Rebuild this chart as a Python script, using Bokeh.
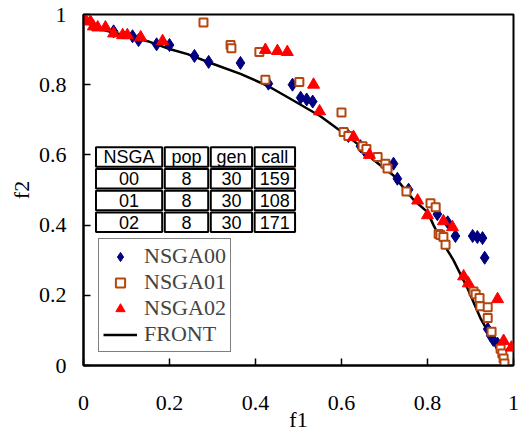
from bokeh.plotting import figure
from bokeh.models import Range1d, Legend, LegendItem, FixedTicker
from bokeh.core.properties import value
from bokeh.embed import file_html
from bokeh.resources import INLINE

# FRONT (Pareto front)
front_f1 = [0.0, 0.04, 0.149, 0.202, 0.242, 0.302, 0.365, 0.428, 0.488, 0.551, 0.605, 0.644,
            0.674, 0.721, 0.767, 0.80, 0.814, 0.830, 0.860, 0.893, 0.923, 0.953, 0.977]
front_f2 = [0.98, 0.958, 0.924, 0.901, 0.887, 0.859, 0.831, 0.797, 0.755, 0.710, 0.662, 0.625,
            0.586, 0.541, 0.473, 0.437, 0.40, 0.361, 0.301, 0.220, 0.135, 0.070, 0.006]

# NSGA00
n00_f1 = [0.07, 0.114, 0.128, 0.170, 0.20, 0.258, 0.291, 0.365, 0.430, 0.486, 0.505, 0.519,
          0.533, 0.616, 0.644, 0.656, 0.721, 0.730, 0.756, 0.823, 0.847, 0.865, 0.905, 0.916,
          0.928, 0.933, 0.940, 0.947, 0.953, 0.963]
n00_f2 = [0.952, 0.938, 0.927, 0.915, 0.913, 0.882, 0.865, 0.862, 0.803, 0.80, 0.763, 0.758,
          0.752, 0.654, 0.625, 0.608, 0.575, 0.532, 0.501, 0.431, 0.408, 0.369, 0.369, 0.366,
          0.363, 0.307, 0.104, 0.085, 0.073, 0.062]

# NSGA01
n01_f1 = [0.279, 0.342, 0.344, 0.409, 0.423, 0.502, 0.60, 0.605, 0.616, 0.649, 0.658, 0.684,
          0.702, 0.707, 0.751, 0.807, 0.819, 0.826, 0.830, 0.837, 0.842, 0.907, 0.912, 0.921,
          0.923, 0.940, 0.940, 0.949, 0.970, 0.974, 0.977, 0.979]
n01_f2 = [0.977, 0.913, 0.904, 0.893, 0.814, 0.808, 0.721, 0.665, 0.654, 0.625, 0.617, 0.594,
          0.575, 0.561, 0.496, 0.462, 0.451, 0.375, 0.372, 0.366, 0.344, 0.211, 0.203, 0.192,
          0.169, 0.166, 0.135, 0.096, 0.048, 0.034, 0.020, 0.006]

# NSGA02
n02_f1 = [0.0, 0.005, 0.016, 0.023, 0.033, 0.051, 0.07, 0.091, 0.102, 0.133, 0.184, 0.423,
          0.451, 0.474, 0.535, 0.549, 0.628, 0.665, 0.777, 0.80, 0.837, 0.858, 0.884, 0.895,
          0.963, 0.977, 0.995]
n02_f2 = [0.986, 0.983, 0.980, 0.966, 0.963, 0.963, 0.946, 0.941, 0.941, 0.935, 0.924, 0.899,
          0.896, 0.893, 0.80, 0.724, 0.651, 0.60, 0.470, 0.428, 0.411, 0.394, 0.254, 0.234,
          0.189, 0.070, 0.051]

# Table
table_header = ["NSGA", "pop", "gen", "call"]
table_rows = [["00", "8", "30", "159"],
              ["01", "8", "30", "108"],
              ["02", "8", "30", "171"]]
col_edges = [0.026, 0.186, 0.293, 0.395, 0.495]
row_edges = [0.625, 0.563, 0.501, 0.439, 0.377]

tick_vals = [0, 0.2, 0.4, 0.6, 0.8, 1]

p = figure(width=520, height=434, x_range=Range1d(0, 1), y_range=Range1d(0, 1),
           output_backend="svg", toolbar_location=None,
           min_border_left=83, min_border_right=7, min_border_top=14, min_border_bottom=69,
           background_fill_color="white", border_fill_color="white")
p.grid.visible = False
p.outline_line_color = "black"
p.outline_line_width = 2

for ax in (p.xaxis[0], p.yaxis[0]):
    ax.ticker = FixedTicker(ticks=tick_vals)
    ax.major_tick_in = 7
    ax.major_tick_out = 0
    ax.minor_tick_line_color = None
    ax.axis_line_width = 2
    ax.major_tick_line_width = 1.5
    ax.major_label_text_font = "Liberation Serif"
    ax.major_label_text_font_size = "22px"
    ax.major_label_text_color = "black"
    ax.axis_label_text_font = "Liberation Serif"
    ax.axis_label_text_font_size = "22px"
    ax.axis_label_text_font_style = "normal"
    ax.axis_label_text_color = "black"

p.xaxis.major_label_overrides = {0: "0", 1: "1"}
p.yaxis.major_label_overrides = {0: "0", 1: "1"}
p.xaxis.axis_label = "f1"
p.yaxis.axis_label = "f2"
p.xaxis.major_label_standoff = 30
p.xaxis.axis_label_standoff = -6
p.yaxis.major_label_standoff = 17
p.yaxis.axis_label_standoff = 2

r_front = p.line(front_f1, front_f2, line_color="black", line_width=2.5)
r00 = p.scatter(n00_f1, n00_f2, marker="diamond", size=13, fill_color="#000080",
                line_color="#000080")
r01 = p.scatter(n01_f1, n01_f2, marker="square", size=8, fill_color="white",
                line_color="#B5460F", line_width=2)
r02 = p.scatter(n02_f1, n02_f2, marker="triangle", size=12, fill_color="#FF0000",
                line_color="#FF0000")

# table cells
all_rows = [table_header] + table_rows
lefts, rights, tops, bottoms, tx, ty, tt = [], [], [], [], [], [], []
ix, iy = 0.003, 0.003
for ri, row in enumerate(all_rows):
    for ci, txt in enumerate(row):
        l, r = col_edges[ci], col_edges[ci + 1]
        t, b = row_edges[ri], row_edges[ri + 1]
        lefts.append(l + ix); rights.append(r - ix)
        tops.append(t - iy); bottoms.append(b + iy)
        tx.append((l + r) / 2); ty.append((t + b) / 2); tt.append(txt)
p.quad(left=lefts, right=rights, top=tops, bottom=bottoms, fill_color="white",
       line_color="black", line_width=2)
p.text(x=tx, y=ty, text=tt, text_font=value("Liberation Sans"), text_font_size="18px",
       text_align="center", text_baseline="middle", text_color="black")

legend = Legend(items=[LegendItem(label="NSGA00", renderers=[r00]),
                       LegendItem(label="NSGA01", renderers=[r01]),
                       LegendItem(label="NSGA02", renderers=[r02]),
                       LegendItem(label="FRONT", renderers=[r_front])],
                location=(15, 13), label_text_font="Liberation Serif",
                label_text_font_size="22px", border_line_color="black", border_line_width=1,
                background_fill_color="white", background_fill_alpha=1.0,
                padding=4, spacing=0, label_height=23, glyph_height=23, glyph_width=34,
                label_standoff=7, margin=0)
p.add_layout(legend)

open("out.html", "w").write(file_html(p, INLINE))
